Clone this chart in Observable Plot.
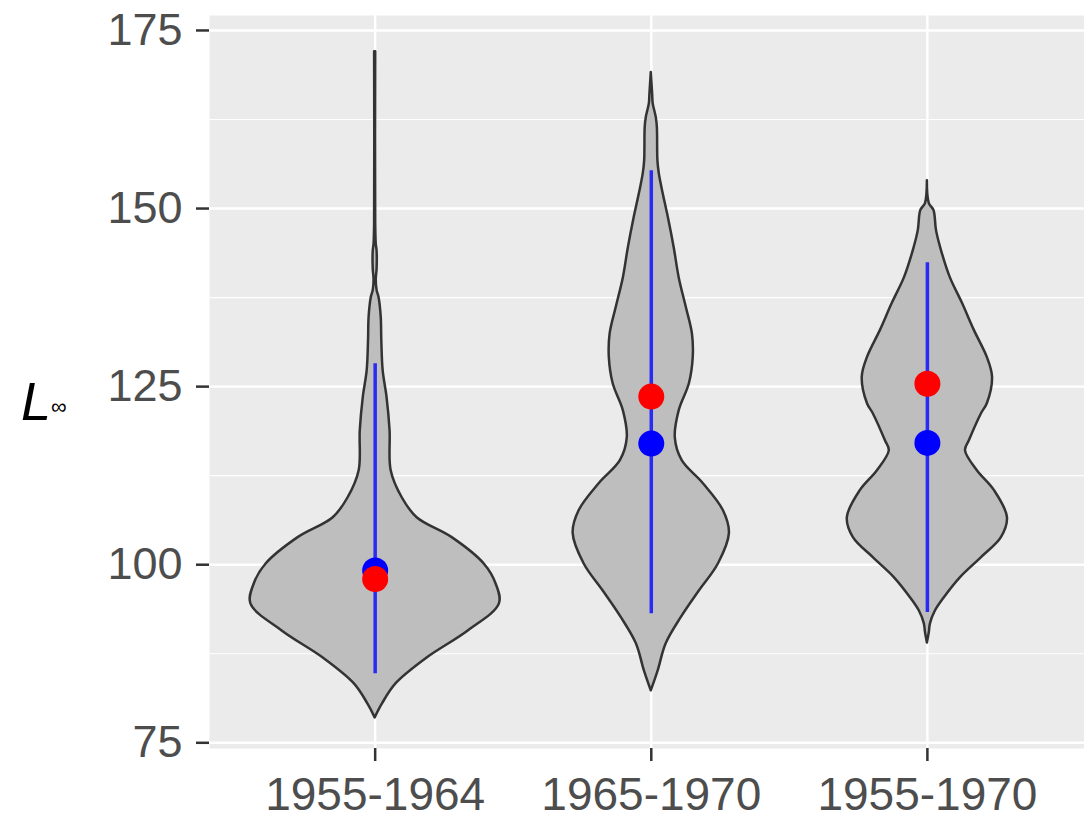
<!DOCTYPE html>
<html>
<head>
<meta charset="utf-8">
<script src="https://cdn.jsdelivr.net/npm/d3@7"></script>
<script src="https://cdn.jsdelivr.net/npm/@observablehq/plot@0.6"></script>
<style>
  html, body { margin: 0; padding: 0; background: #ffffff; }
  #chart svg { display: block; }
</style>
</head>
<body>
<div id="chart"></div>
<script>
// Periods along the x axis
const periods = ["1955-1964", "1965-1970", "1955-1970"];

// Violin outlines: L∞ level and density half-width (in category units)
const levels1 = [78.5, 80.5, 83.3, 86.9, 90.7, 94.5, 97.3, 100.1, 103.8, 106.6, 109.4, 113.2, 118.8, 123.5, 127.2, 131.5, 134.7, 137.5, 138.5, 140.0, 141.5, 144.0, 145.0, 148.0, 172.0];
const halfWidth1 = [0, 0.027, 0.076, 0.188, 0.337, 0.45, 0.438, 0.395, 0.279, 0.152, 0.098, 0.058, 0.054, 0.043, 0.029, 0.024, 0.022, 0.014, 0.007, 0.004, 0.007, 0.007, 0.004, 0.002, 0.002];

const levels2 = [82.3, 85.1, 88.9, 92.6, 96.3, 100.1, 104.4, 107.6, 111.4, 114.6, 117.8, 121.6, 125.4, 129.1, 132.4, 136.1, 140.3, 144.5, 148.7, 152.1, 154.9, 156.7, 161.4, 162.8, 164.7, 166.0, 169.1];
const halfWidth2 = [0, 0.025, 0.054, 0.109, 0.174, 0.243, 0.283, 0.261, 0.188, 0.112, 0.087, 0.101, 0.138, 0.152, 0.149, 0.127, 0.101, 0.083, 0.062, 0.043, 0.029, 0.024, 0.022, 0.018, 0.007, 0.005, 0];

const levels3 = [89.0, 90.5, 91.7, 93.5, 95.4, 98.2, 101.0, 103.8, 106.6, 110.4, 113.2, 116.0, 117.4, 121.2, 122.6, 126.3, 129.1, 132.9, 136.7, 140.3, 144.1, 146.9, 149.7, 150.7, 153.9];
const halfWidth3 = [0, 0.007, 0.011, 0.029, 0.062, 0.12, 0.196, 0.268, 0.29, 0.243, 0.181, 0.138, 0.152, 0.196, 0.217, 0.236, 0.217, 0.17, 0.127, 0.083, 0.051, 0.033, 0.024, 0.007, 0];

// Interval (blue line) and the two point estimates per period
const intervalLow  = [84.7, 93.1, 93.3];
const intervalHigh = [128.2, 155.3, 142.4];
const blueEstimate = [99.2, 117.0, 117.1];
const redEstimate  = [98.0, 123.6, 125.4];

// Axis ticks
const yTicks = [75, 100, 125, 150, 175];
const yMinorTicks = [87.5, 112.5, 137.5, 162.5];

// Long table for the violins
const violinRows = [];
[[levels1, halfWidth1], [levels2, halfWidth2], [levels3, halfWidth3]].forEach(([lv, hw], i) => {
  lv.forEach((v, j) => violinRows.push({period: periods[i], pos: i + 1, v, w: hw[j]}));
});
const summary = periods.map((p, i) => ({
  period: p, pos: i + 1,
  lo: intervalLow[i], hi: intervalHigh[i],
  blue: blueEstimate[i], red: redEstimate[i]
}));

const font = "'Liberation Sans', Arial, Helvetica, sans-serif";

const chart = Plot.plot({
  width: 1084,
  height: 825,
  marginLeft: 209,
  marginRight: 0,
  marginTop: 15,
  marginBottom: 77,
  style: {fontFamily: font, background: "#ffffff"},
  x: {domain: [0.4, 3.569], axis: null},
  y: {domain: [74.2, 177.1], axis: null},
  marks: [
    Plot.frame({fill: "#EBEBEB"}),
    Plot.gridY(yMinorTicks, {stroke: "#ffffff", strokeOpacity: 1, strokeWidth: 1.2}),
    Plot.gridY(yTicks, {stroke: "#ffffff", strokeOpacity: 1, strokeWidth: 2.4}),
    Plot.gridX([1, 2, 3], {stroke: "#ffffff", strokeOpacity: 1, strokeWidth: 2.4}),
    Plot.areaX(violinRows, {
      y: "v",
      x1: d => d.pos - d.w,
      x2: d => d.pos + d.w,
      z: "period",
      fill: "#BEBEBE",
      stroke: "#333333",
      strokeWidth: 2.5,
      curve: "catmull-rom"
    }),
    Plot.ruleX(summary, {x: "pos", y1: "lo", y2: "hi", stroke: "#2A2AF5", strokeWidth: 3.5}),
    Plot.dot(summary, {x: "pos", y: "blue", r: 13, fill: "#0000FF", stroke: null}),
    Plot.dot(summary, {x: "pos", y: "red", r: 13, fill: "#FF0000", stroke: null}),
    Plot.axisY(yTicks, {
      anchor: "left", label: null, tickSize: 13, tickPadding: 14,
      fontSize: 45, stroke: "#333333", strokeWidth: 2.5, fill: "#4D4D4D"
    }),
    Plot.axisX([1, 2, 3], {
      anchor: "bottom", label: null, tickSize: 13, tickPadding: 16,
      tickFormat: d => periods[d - 1],
      fontSize: 46, stroke: "#333333", strokeWidth: 2.5, fill: "#4D4D4D"
    })
  ]
});

// Y axis title: italic L with a subscript infinity
const title = d3.select(chart).append("text")
  .attr("x", 21)
  .attr("y", 420)
  .attr("text-anchor", "start")
  .attr("fill", "#000000")
  .style("font-family", font);
title.append("tspan").attr("font-size", 54).attr("font-style", "italic").text("L");
title.append("tspan").attr("font-size", 22).attr("dx", 0).attr("dy", -6).text("∞");

document.getElementById("chart").appendChild(chart);
</script>
</body>
</html>
